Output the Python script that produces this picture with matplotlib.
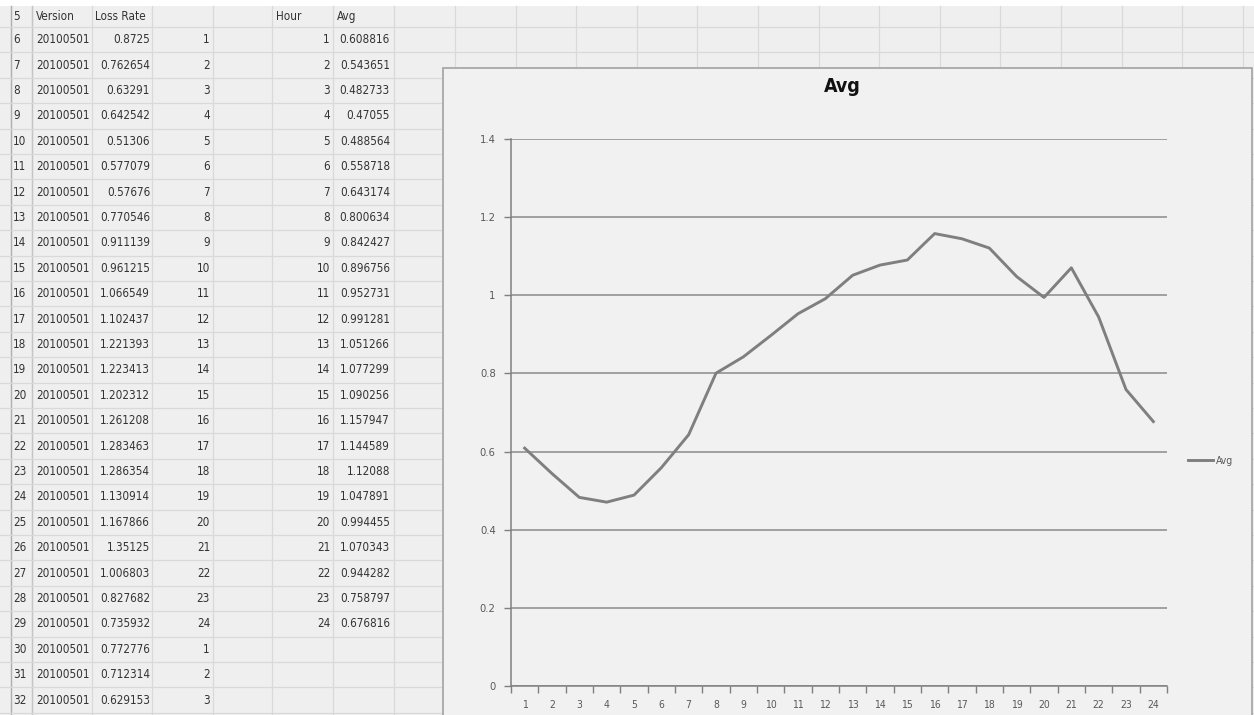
import numpy as np
import matplotlib
matplotlib.use('Agg')
import matplotlib.pyplot as plt
from matplotlib.patches import Rectangle
from matplotlib import font_manager

# sheet data
row_nums = list(range(5, 33))
version = [20100501] * 27
loss_rate = [0.8725, 0.762654, 0.63291, 0.642542, 0.51306, 0.577079, 0.57676, 0.770546,
             0.911139, 0.961215, 1.066549, 1.102437, 1.221393, 1.223413, 1.202312, 1.261208,
             1.283463, 1.286354, 1.130914, 1.167866, 1.35125, 1.006803, 0.827682, 0.735932,
             0.772776, 0.712314, 0.629153]
hour_idx = list(range(1, 25)) + [1, 2, 3]
hours = list(range(1, 25))
avg = [0.608816, 0.543651, 0.482733, 0.47055, 0.488564, 0.558718, 0.643174, 0.800634,
       0.842427, 0.896756, 0.952731, 0.991281, 1.051266, 1.077299, 1.090256, 1.157947,
       1.144589, 1.12088, 1.047891, 0.994455, 1.070343, 0.944282, 0.758797, 0.676816]
y_ticks = [0, 0.2, 0.4, 0.6, 0.8, 1, 1.2, 1.4]

stretches = {f.stretch for f in font_manager.fontManager.ttflist if f.name == 'DejaVu Sans'}
condensed = 'condensed' in stretches
plt.rcParams['font.family'] = 'DejaVu Sans'
if condensed:
    plt.rcParams['font.stretch'] = 'condensed'
TSIZE = 8.4 if condensed else 7.6

W, H = 1254, 715
fig = plt.figure(figsize=(W / 100, H / 100), dpi=100, facecolor='#efefef')

bg = fig.add_axes([0, 0, 1, 1])
bg.set_xlim(0, W)
bg.set_ylim(H, 0)
bg.axis('off')

# white strip of the page above the sheet
bg.add_patch(Rectangle((0, 0), W, 6, fc='white', ec='none', zorder=1))

# sheet grid
top = 27
rh = 25.4
col_lines = [11, 32, 92, 152, 213, 272, 333, 394, 455]
x = 455
while x < W:
    x += 60.6
    col_lines.append(x)
for cx in col_lines:
    bg.plot([cx, cx], [6, H], color='#d9d9d9', lw=0.9, zorder=1)
bg.plot([11, 11], [6, H], color='#b0b0b0', lw=1.0, zorder=1)
bg.plot([32, 32], [6, H], color='#c4c4c4', lw=1.0, zorder=1)
yl = top
while yl < H:
    bg.plot([0, W], [yl, yl], color='#d9d9d9', lw=0.9, zorder=1)
    yl += rh

tc = '#333333'
kw = dict(fontsize=TSIZE, color=tc, va='center', zorder=2)
hy = 16.5
bg.text(13, hy, str(row_nums[0]), ha='left', **kw)
bg.text(36, hy, 'Version', ha='left', **kw)
bg.text(95, hy, 'Loss Rate', ha='left', **kw)
bg.text(276, hy, 'Hour', ha='left', **kw)
bg.text(337, hy, 'Avg', ha='left', **kw)

for k in range(len(loss_rate)):
    cy = top + (k + 0.5) * rh
    bg.text(13, cy, str(row_nums[k + 1]), ha='left', **kw)
    bg.text(90, cy, str(version[k]), ha='right', **kw)
    bg.text(150, cy, str(loss_rate[k]), ha='right', **kw)
    bg.text(210, cy, str(hour_idx[k]), ha='right', **kw)
    if k < len(avg):
        bg.text(330, cy, str(hours[k]), ha='right', **kw)
        bg.text(390, cy, str(avg[k]), ha='right', **kw)

# chart area
bg.add_patch(Rectangle((443, 68), 809, 700, fc='#f1f1f1', ec='#a8a8a8', lw=1.3, zorder=3))
bg.text(842, 86, 'Avg', fontsize=14, fontweight='bold', color='#111111',
        ha='center', va='center', zorder=4)

ax = fig.add_axes([511 / W, 1 - 686 / H, (1167 - 511) / W, (686 - 139) / H])
ax.set_facecolor('none')
ax.plot(hours, avg, color='#7f7f7f', lw=2.1, label='Avg', zorder=3)
ax.set_xlim(0.5, 24.5)
ax.set_ylim(0, 1.4)
ax.set_yticks(y_ticks)
ax.set_yticklabels([f'{v:g}' for v in y_ticks])
ax.yaxis.grid(True, color='#8a8a8a', lw=1.1)
ax.set_axisbelow(True)
for s in ['top', 'right']:
    ax.spines[s].set_visible(False)
for s in ['left', 'bottom']:
    ax.spines[s].set_color('#808080')
    ax.spines[s].set_linewidth(1.1)

ax.set_xticks(np.arange(0.5, 25, 1))
ax.set_xticklabels([])
ax.set_xticks(hours, minor=True)
ax.set_xticklabels([str(h) for h in hours], minor=True)
ax.tick_params(axis='x', which='major', length=5, color='#808080', width=1)
ax.tick_params(axis='x', which='minor', length=0, pad=10, labelsize=7.5, labelcolor='#595959')
ax.tick_params(axis='y', length=5, color='#808080', width=1, labelsize=8,
               labelcolor='#595959', pad=6)

ax.legend(loc='center left', bbox_to_anchor=(1188 / W, 1 - 461 / H),
          bbox_transform=fig.transFigure, frameon=False, fontsize=7.5,
          handlelength=2.4, handletextpad=0.25, borderaxespad=0, borderpad=0,
          labelcolor='#595959')

fig.savefig('out.png', dpi=100, facecolor=fig.get_facecolor())
